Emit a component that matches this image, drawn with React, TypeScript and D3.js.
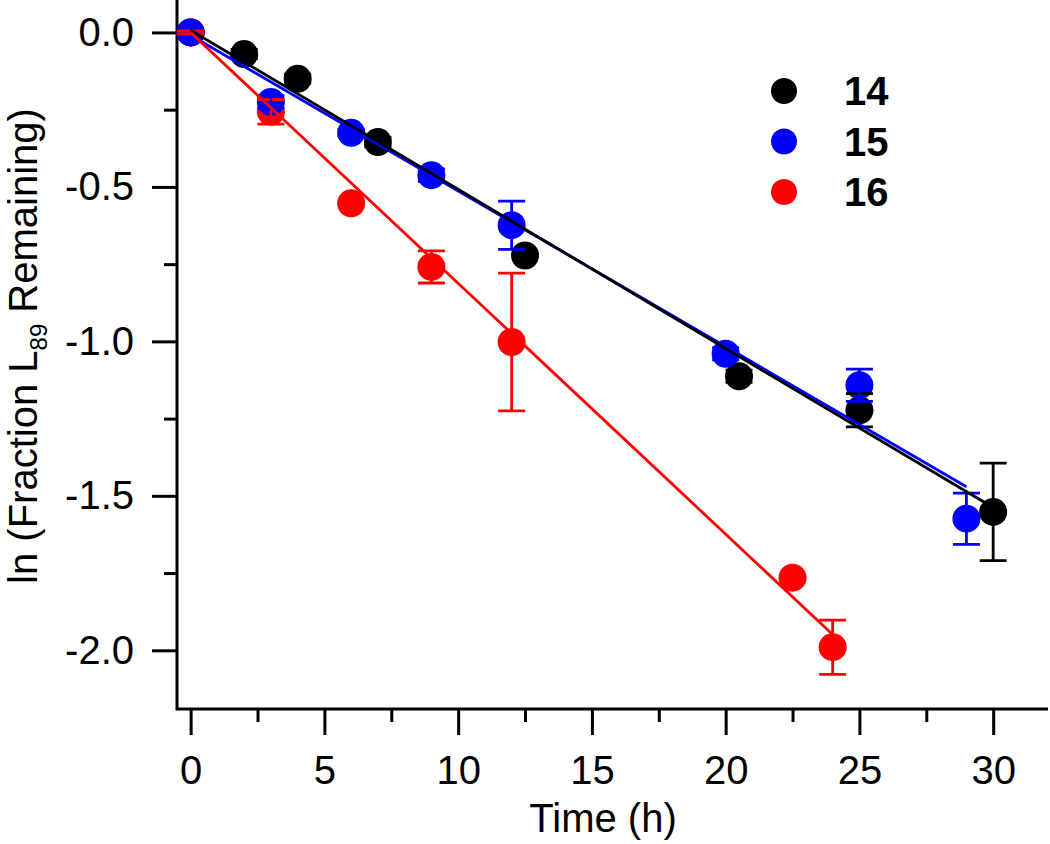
import React, { useEffect, useRef } from "react";
import * as d3 from "d3";

// series 14
const time14 = [0, 2, 4, 7, 12.5, 20.5, 25, 30];
const lnFrac14 = [0, -0.07, -0.15, -0.355, -0.722, -1.113, -1.223, -1.552];
const err14 = [0, 0.015, 0.015, 0.015, 0, 0.02, 0.054, 0.158];

// series 15
const time15 = [0, 3, 6, 9, 12, 20, 25, 29];
const lnFrac15 = [0, -0.225, -0.325, -0.462, -0.624, -1.04, -1.142, -1.574];
const err15 = [0, 0.02, 0.01, 0.02, 0.078, 0.02, 0.052, 0.083];

// series 16
const time16 = [0, 3, 6, 9, 12, 22.5, 24];
const lnFrac16 = [0, -0.257, -0.553, -0.759, -1.002, -1.765, -1.99];
const err16 = [0.005, 0.04, 0, 0.052, 0.223, 0, 0.088];

const seriesNames = ["14", "15", "16"];
const seriesColors = ["#000000", "#0000ff", "#ff0000"];

// linear fits: intercept, slope, last time
const fitIntercept = [0.007, -0.009, 0];
const fitSlope = [-0.0515, -0.0504, -0.0812];
const fitEnd = [30, 29, 24];

const xTicks = [0, 5, 10, 15, 20, 25, 30];
const xMinorTicks = [2.5, 7.5, 12.5, 17.5, 22.5, 27.5];
const yTicks = [0, -0.5, -1, -1.5, -2];
const yMinorTicks = [-0.25, -0.75, -1.25, -1.75];

const font = "'Liberation Sans', Arial, sans-serif";

export default function App() {
  const ref = useRef<SVGSVGElement>(null);

  useEffect(() => {
    const svg = d3.select(ref.current);
    svg.selectAll("*").remove();

    const width = 1050, height = 844;
    const left = 177, bottom = 709, right = 1048, top = 0;

    const x = d3.scaleLinear().domain([-0.51, 32.05]).range([left, right]);
    const y = d3.scaleLinear().domain([-2.19, 0.105]).range([bottom, top]);

    svg.append("rect").attr("width", width).attr("height", height).attr("fill", "#fff");

    // axes
    const styleAxis = (g: any) => {
      g.select(".domain").remove();
      g.selectAll(".tick line").attr("stroke", "#000").attr("stroke-width", 3);
      g.selectAll(".tick text")
        .attr("fill", "#000")
        .style("font-family", font)
        .style("font-size", "40px");
    };

    svg.append("g")
      .attr("transform", `translate(0,${bottom})`)
      .call(d3.axisBottom(x).tickValues(xTicks).tickFormat((d: any) => String(d))
        .tickSize(26).tickPadding(21).tickSizeOuter(0))
      .call(styleAxis);
    svg.append("g")
      .attr("transform", `translate(0,${bottom})`)
      .call(d3.axisBottom(x).tickValues(xMinorTicks).tickFormat(() => "")
        .tickSize(13).tickSizeOuter(0))
      .call(styleAxis);

    svg.append("g")
      .attr("transform", `translate(${left},0)`)
      .call(d3.axisLeft(y).tickValues(yTicks).tickFormat((d: any) => d.toFixed(1))
        .tickSize(25).tickPadding(18).tickSizeOuter(0))
      .call(styleAxis);
    svg.append("g")
      .attr("transform", `translate(${left},0)`)
      .call(d3.axisLeft(y).tickValues(yMinorTicks).tickFormat(() => "")
        .tickSize(13).tickSizeOuter(0))
      .call(styleAxis);

    svg.append("path")
      .attr("d", `M${left},${top}V${bottom}H${right}`)
      .attr("fill", "none")
      .attr("stroke", "#000")
      .attr("stroke-width", 3);

    // data
    const series = [
      { t: time14, v: lnFrac14, e: err14 },
      { t: time15, v: lnFrac15, e: err15 },
      { t: time16, v: lnFrac16, e: err16 },
    ];
    const r = 14;
    const cap = 13.5;

    // markers: 14, 16, 15 (blue sits above red)
    const markerOrder = [0, 2, 1];
    markerOrder.forEach((si) => {
      const s = series[si];
      svg.append("g").selectAll("circle")
        .data(s.t.map((t, i) => ({ t, v: s.v[i] })))
        .enter()
        .append("circle")
        .attr("cx", (d) => x(d.t))
        .attr("cy", (d) => y(d.v))
        .attr("r", r)
        .attr("fill", seriesColors[si]);
    });

    // error bars
    markerOrder.forEach((si) => {
      const s = series[si];
      const pts = s.t.map((t, i) => ({ t, v: s.v[i], e: s.e[i] })).filter((d) => d.e > 0);
      svg.append("g").selectAll("path")
        .data(pts)
        .enter()
        .append("path")
        .attr("d", (d) => {
          const cx = x(d.t), y1 = y(d.v + d.e), y2 = y(d.v - d.e);
          return `M${cx},${y1}V${y2}M${cx - cap},${y1}H${cx + cap}M${cx - cap},${y2}H${cx + cap}`;
        })
        .attr("fill", "none")
        .attr("stroke", seriesColors[si])
        .attr("stroke-width", 2.8);
    });

    // fit lines
    [1, 0, 2].forEach((si) => {
      const line = d3.line<number>()
        .x((t) => x(t))
        .y((t) => y(fitIntercept[si] + fitSlope[si] * t));
      svg.append("path")
        .attr("d", line([0, fitEnd[si]]))
        .attr("fill", "none")
        .attr("stroke", seriesColors[si])
        .attr("stroke-width", 2.8);
    });

    // legend
    const legend = svg.append("g").attr("transform", "translate(784,91)");
    seriesNames.forEach((name, i) => {
      legend.append("circle")
        .attr("cx", 0)
        .attr("cy", i * 50.5)
        .attr("r", 13)
        .attr("fill", seriesColors[i]);
      legend.append("text")
        .attr("x", 60)
        .attr("y", i * 50.5)
        .attr("dy", "0.36em")
        .attr("fill", "#000")
        .style("font-family", font)
        .style("font-size", "40px")
        .style("font-weight", "bold")
        .text(name);
    });

    // axis titles
    svg.append("text")
      .attr("x", 603)
      .attr("y", 832)
      .attr("text-anchor", "middle")
      .style("font-family", font)
      .style("font-size", "40px")
      .text("Time (h)");

    const yTitle = svg.append("text")
      .attr("transform", "translate(37,346) rotate(-90)")
      .attr("text-anchor", "middle")
      .style("font-family", font)
      .style("font-size", "40px");
    yTitle.append("tspan").text("ln (Fraction L");
    yTitle.append("tspan").attr("dy", 10).style("font-size", "24px").text("89");
    yTitle.append("tspan").attr("dy", -10).text(" Remaining)");
  }, []);

  return (
    <svg
      ref={ref}
      width={1050}
      height={844}
      style={{ position: "absolute", left: 0, top: 0 }}
    />
  );
}
